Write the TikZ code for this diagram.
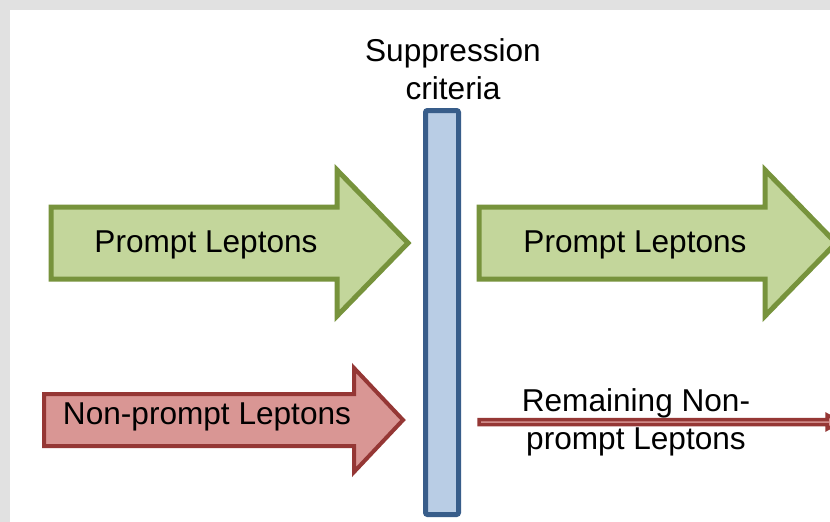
\documentclass[tikz,border=0pt]{standalone}
\usepackage{fontspec}
\setmainfont{Liberation Sans}
\definecolor{grnfill}{HTML}{C3D69B}
\definecolor{grnline}{HTML}{77933C}
\definecolor{redfill}{HTML}{D99694}
\definecolor{redline}{HTML}{953735}
\definecolor{blufill}{HTML}{B9CDE5}
\definecolor{bluline}{HTML}{385D8A}
\definecolor{bggray}{HTML}{E1E1E1}
\begin{document}
\begin{tikzpicture}[x=1pt,y=-1pt,
  greenarrow/.style={fill=grnfill,draw=grnline,line width=5pt,line join=miter},
  redarrow/.style={fill=redfill,draw=redline,line width=4pt,line join=miter},
  thinarrow/.style={fill=redfill,draw=redline,line width=3.5pt,line join=miter},
  barstyle/.style={fill=blufill,draw=bluline,line width=5pt,rounded corners=2pt},
  lbl/.style={font=\fontsize{31.6}{38}\selectfont,text=black,inner sep=0pt,align=center}]
\useasboundingbox (0,0) rectangle (830,522);
\fill[bggray] (0,0) rectangle (830,522);
\fill[white] (10,10) rectangle (830,522);
% green arrow 1
\draw[greenarrow] (51,207) -- (337,207) -- (337,170) -- (408,243) -- (337,316) -- (337,279) -- (51,279) -- cycle;
% green arrow 2
\draw[greenarrow] (479,207) -- (765,207) -- (765,170) -- (836,243) -- (765,316) -- (765,279) -- (479,279) -- cycle;
% red arrow
\draw[redarrow] (44,394) -- (354,394) -- (354,368) -- (403,420) -- (354,472) -- (354,446) -- (44,446) -- cycle;
% thin remaining arrow
\draw[thinarrow] (479,419.5) -- (827,419.5) -- (827,415) -- (840,422) -- (827,429) -- (827,424.5) -- (479,424.5) -- cycle;
% suppression bar
\draw[barstyle] (425.5,110.5) rectangle (458.5,514.5);
% labels
\node[lbl] (supp) at (453,69) {Suppression\\criteria};
\node[lbl] (pl1) at (206,245) {Prompt Leptons};
\node[lbl] (pl2) at (635,245) {Prompt Leptons};
\node[lbl] (npl) at (207,417) {Non-prompt Leptons};
\node[lbl] (rnpl) at (636,422) {Remaining Non-\\prompt Leptons};
\end{tikzpicture}
\end{document}
